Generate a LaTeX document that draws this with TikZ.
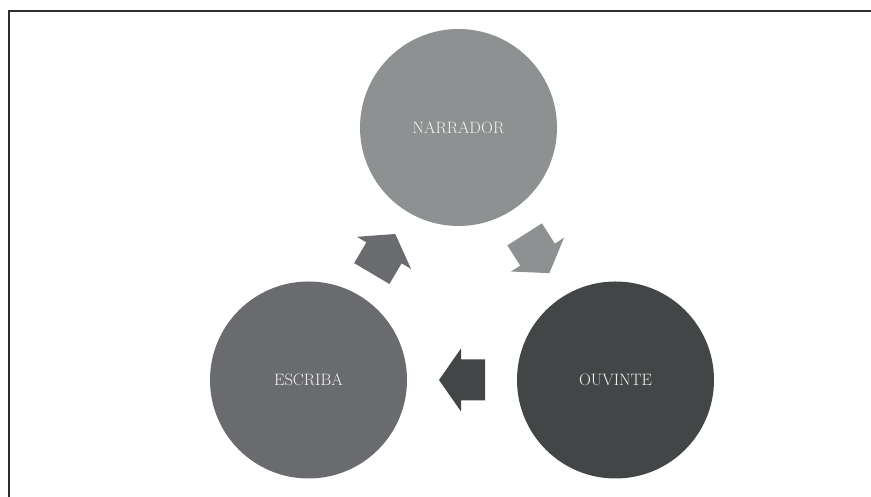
\documentclass[tikz,border=0pt]{standalone}
\usepackage{fontspec}
\usetikzlibrary{calc}
\definecolor{narcol}{RGB}{142,145,145}
\definecolor{esccol}{RGB}{106,107,111}
\definecolor{ouvcol}{RGB}{67,70,70}
\definecolor{txtcol}{RGB}{242,242,242}
\definecolor{framecol}{RGB}{45,45,45}
\tikzset{
  phase/.style={circle, minimum size=197pt, inner sep=0pt, text=txtcol,
    font=\fontsize{16.5}{20}\selectfont},
  blockarrow/.pic={\fill (-23,-20.5) -- (1,-20.5) -- (1,-31.5) -- (23,0) -- (1,31.5) -- (1,20.5) -- (-23,20.5) -- cycle;}
}
\begin{document}
\begin{tikzpicture}[x=1pt,y=1pt]
\useasboundingbox (0,0) rectangle (871,497);
\draw[framecol, line width=2pt] (8.5,0) -- (8.5,485.5) -- (871,485.5);
\node[phase, fill=narcol] (nar) at (458.5,369.5) {NARRADOR};
\node[phase, fill=esccol] (esc) at (308.5,117) {ESCRIBA};
\node[phase, fill=ouvcol] (ouv) at (615.5,117) {OUVINTE};
\pic[fill=esccol, rotate=59.3] at ($(esc)!0.5!(nar)$) {blockarrow};
\pic[fill=narcol, rotate=-57.5] at ($(nar)!0.5!(ouv)$) {blockarrow};
\pic[fill=ouvcol, rotate=180] at ($(ouv)!0.5!(esc)$) {blockarrow};
\end{tikzpicture}
\end{document}
